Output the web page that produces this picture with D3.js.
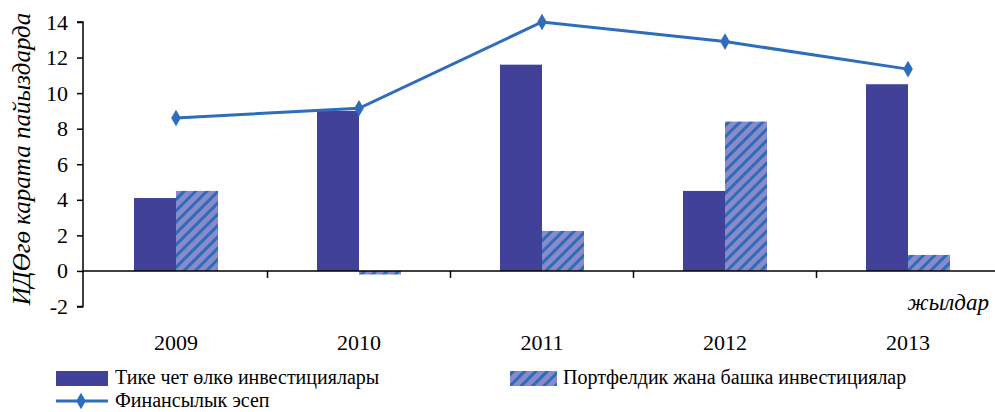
<!DOCTYPE html>
<html>
<head>
<meta charset="utf-8">
<script src="https://cdn.jsdelivr.net/npm/d3@7"></script>
<style>
	body { margin: 0; background: #fff; }
	text { font-family: "Liberation Serif", "Times New Roman", serif; fill: #000; }
</style>
</head>
<body>
<div id="chart"></div>
<script>
var years = ["2009", "2010", "2011", "2012", "2013"];
var directInv = [4.1, 9.0, 11.6, 4.5, 10.5];
var portfolioInv = [4.5, -0.2, 2.25, 8.4, 0.9];
var financialAcc = [8.6, 9.15, 14.0, 12.9, 11.35];
var yTicks = [-2, 0, 2, 4, 6, 8, 10, 12, 14];
var seriesNames = ["Тике чет өлкө инвестициялары", "Портфелдик жана башка инвестициялар", "Финансылык эсеп"];

(function() {
	"use strict";

	var chartWidth = 995,
		chartHeight = 412,
		solidColor = "#41419a",
		hatchBg = "#8a8ac8",
		hatchLine = "#2c6cbc",
		lineColor = "#2e6dbb",
		serif = "'Liberation Serif', 'Times New Roman', serif";

	var svg = d3.select("#chart")
		.append("svg")
		.attr("width", chartWidth)
		.attr("height", chartHeight);

	var defs = svg.append("defs");
	var pat = defs.append("pattern")
		.attr("id", "hatch")
		.attr("patternUnits", "userSpaceOnUse")
		.attr("width", 8)
		.attr("height", 8)
		.attr("patternTransform", "rotate(45)");
	pat.append("rect").attr("width", 8).attr("height", 8).attr("fill", hatchBg);
	pat.append("rect").attr("x", 0).attr("width", 3).attr("height", 8).attr("fill", hatchLine);

	var x = d3.scaleBand().domain(years).range([84.5, 999.5]);
	var y = d3.scaleLinear().domain([-2, 14]).range([306.5, 22]);
	var barW = 42;

	// y axis
	var yAxis = svg.append("g")
		.attr("transform", "translate(83,0)")
		.call(d3.axisLeft(y).tickValues(yTicks).tickSize(6).tickFormat(function(d) { return String(d); }));
	yAxis.attr("font-family", serif).attr("font-size", 22);
	yAxis.select(".domain").attr("stroke", "#000").attr("stroke-width", 1.5).attr("d", "M-6," + y(-2) + "H0V" + y(14) + "H-6");
	yAxis.selectAll(".tick line").attr("stroke", "#000").attr("stroke-width", 1.5);
	yAxis.selectAll(".tick text").attr("x", -15).attr("fill", "#000");

	// bars
	svg.selectAll(".bar1")
		.data(directInv)
		.enter().append("rect")
		.attr("class", "bar1")
		.attr("x", function(d, i) { return x(years[i]) + x.bandwidth() / 2 - barW; })
		.attr("y", function(d) { return Math.min(y(d), y(0)); })
		.attr("width", barW)
		.attr("height", function(d) { return Math.abs(y(d) - y(0)); })
		.attr("fill", solidColor);

	svg.selectAll(".bar2")
		.data(portfolioInv)
		.enter().append("rect")
		.attr("class", "bar2")
		.attr("x", function(d, i) { return x(years[i]) + x.bandwidth() / 2; })
		.attr("y", function(d) { return Math.min(y(d), y(0)); })
		.attr("width", barW)
		.attr("height", function(d) { return Math.abs(y(d) - y(0)); })
		.attr("fill", "url(#hatch)");

	// x axis at zero
	var xAxis = svg.append("g")
		.attr("transform", "translate(0," + y(0) + ")")
		.call(d3.axisBottom(x).tickSize(0).tickFormat(""));
	xAxis.select(".domain").attr("stroke", "#000").attr("stroke-width", 1.5).attr("d", "M83,0H995");
	xAxis.selectAll(".tick").remove();
	svg.selectAll(".xtick")
		.data(years.slice(1))
		.enter().append("line")
		.attr("x1", function(d) { return x(d); })
		.attr("x2", function(d) { return x(d); })
		.attr("y1", y(0))
		.attr("y2", y(0) + 7)
		.attr("stroke", "#000")
		.attr("stroke-width", 1.5);

	svg.selectAll(".xlabel")
		.data(years)
		.enter().append("text")
		.attr("x", function(d) { return x(d) + x.bandwidth() / 2; })
		.attr("y", 350)
		.attr("text-anchor", "middle")
		.style("font-size", "22px")
		.text(function(d) { return d; });

	// line
	var line = d3.line()
		.x(function(d, i) { return x(years[i]) + x.bandwidth() / 2; })
		.y(function(d) { return y(d); });
	svg.append("path")
		.datum(financialAcc)
		.attr("d", line)
		.attr("fill", "none")
		.attr("stroke", lineColor)
		.attr("stroke-width", 3);
	var diamond = d3.symbol().type(d3.symbolDiamond).size(80);
	svg.selectAll(".pt")
		.data(financialAcc)
		.enter().append("path")
		.attr("d", diamond)
		.attr("transform", function(d, i) { return "translate(" + (x(years[i]) + x.bandwidth() / 2) + "," + y(d) + ")"; })
		.attr("fill", lineColor);

	// axis titles
	svg.append("text")
		.attr("transform", "translate(30,159) rotate(-90)")
		.attr("text-anchor", "middle")
		.style("font-size", "25px")
		.style("font-style", "italic")
		.text("ИДӨгө карата пайыздарда");
	svg.append("text")
		.attr("x", 989)
		.attr("y", 310)
		.attr("text-anchor", "end")
		.style("font-size", "23px")
		.style("font-style", "italic")
		.text("жылдар");

	// legend
	var lg = svg.append("g");
	lg.append("rect").attr("x", 56).attr("y", 371).attr("width", 52).attr("height", 15).attr("fill", solidColor);
	lg.append("text").attr("x", 115).attr("y", 384).style("font-size", "20px").text(seriesNames[0]);
	lg.append("rect").attr("x", 510).attr("y", 371).attr("width", 47).attr("height", 15).attr("fill", "url(#hatch)");
	lg.append("text").attr("x", 563).attr("y", 384).style("font-size", "20px").text(seriesNames[1]);
	lg.append("line").attr("x1", 56).attr("x2", 108).attr("y1", 401).attr("y2", 401).attr("stroke", lineColor).attr("stroke-width", 3);
	lg.append("path").attr("d", diamond).attr("transform", "translate(81,401)").attr("fill", lineColor);
	lg.append("text").attr("x", 115).attr("y", 407).style("font-size", "20px").text(seriesNames[2]);
})();
</script>
</body>
</html>
